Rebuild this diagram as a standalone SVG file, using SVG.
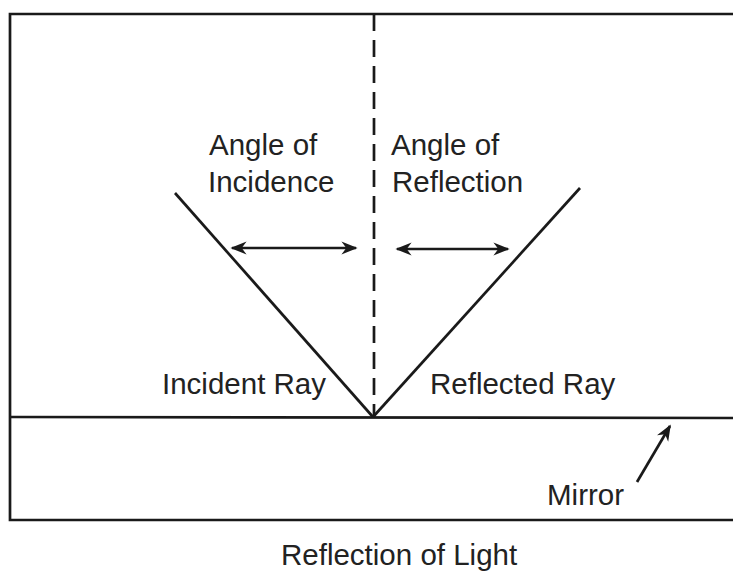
<svg xmlns="http://www.w3.org/2000/svg" width="733" height="573" viewBox="0 0 733 573">
<style>
.ln{stroke:#1a1a1a;stroke-width:2.7;fill:none}
.t{font-family:"Liberation Sans",Arial,sans-serif;font-size:29.5px;fill:#222}
</style>
<defs>
<marker id="ah" viewBox="0 0 10 10" refX="9" refY="5" markerWidth="6" markerHeight="6" orient="auto-start-reverse" markerUnits="strokeWidth">
<path d="M0,1 L10,5 L0,9 L3,5 Z" fill="#1a1a1a"/>
</marker>
</defs>
<rect width="733" height="573" fill="#fff"/>
<g id="frame">
<polyline class="ln" points="733,14 10,14 10,520 733,520"/>
</g>
<g id="mirror">
<line class="ln" x1="10" y1="417" x2="733" y2="418"/>
<text class="t" x="547" y="505">Mirror</text>
</g>
<g id="normal">
<line class="ln" x1="374" y1="14" x2="374" y2="417" stroke-dasharray="17,9"/>
</g>
<g id="incident-ray">
<line class="ln" x1="175" y1="193" x2="373" y2="417"/>
<text class="t" x="162" y="394">Incident Ray</text>
</g>
<g id="reflected-ray">
<line class="ln" x1="373" y1="417" x2="580" y2="188"/>
<text class="t" x="430" y="394">Reflected Ray</text>
</g>
<g id="angle-incidence">
<text class="t" x="209" y="155">Angle of</text>
<text class="t" x="208" y="192">Incidence</text>
</g>
<g id="angle-reflection">
<text class="t" x="391" y="155">Angle of</text>
<text class="t" x="392" y="192">Reflection</text>
</g>
<g id="connectors">
<line class="ln" x1="232" y1="248" x2="356" y2="248" marker-start="url(#ah)" marker-end="url(#ah)"/>
<line class="ln" x1="397" y1="249" x2="508" y2="249" marker-start="url(#ah)" marker-end="url(#ah)"/>
<line class="ln" x1="637" y1="482" x2="670" y2="426" stroke-width="2.3" marker-end="url(#ah)"/>
</g>
<g id="caption">
<text class="t" x="281" y="565">Reflection of Light</text>
</g>
</svg>
